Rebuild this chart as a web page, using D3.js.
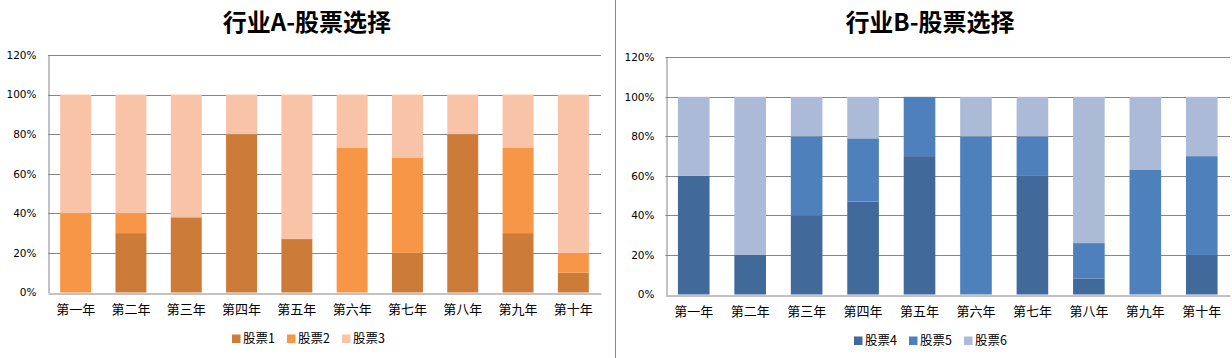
<!DOCTYPE html>
<html><head><meta charset="utf-8">
<script src="https://cdn.jsdelivr.net/npm/d3@7"></script>
<style>html,body{margin:0;padding:0;background:#fff;overflow:hidden}</style>
</head><body>
<svg id="c" width="1232" height="358"></svg>
<script>
const categories = ["第一年","第二年","第三年","第四年","第五年","第六年","第七年","第八年","第九年","第十年"];
const yTicks = [0, 20, 40, 60, 80, 100, 120];

const titleA = "行业A-股票选择";
const seriesNamesA = ["股票1","股票2","股票3"];
const stock1 = [0, 30, 38, 80, 27, 0, 20, 80, 30, 10];
const stock2 = [40, 10, 0, 0, 0, 73, 48, 0, 43, 10];
const stock3 = [60, 60, 62, 20, 73, 27, 32, 20, 27, 80];
const colorsA = ["#CD7B38", "#F79646", "#F9C3A8"];

const titleB = "行业B-股票选择";
const seriesNamesB = ["股票4","股票5","股票6"];
const stock4 = [60, 20, 40, 47, 70, 0, 60, 8, 0, 20];
const stock5 = [0, 0, 40, 32, 30, 80, 20, 18, 63, 50];
const stock6 = [40, 80, 20, 21, 0, 20, 20, 74, 37, 30];
const colorsB = ["#41699A", "#4E80BC", "#ABBAD7"];

const svg = d3.select("#c");
const cjk = "'Noto Sans CJK SC', 'Noto Sans', sans-serif";

function drawChart(cfg) {
  const g = svg.append("g");
  const x = d3.scaleBand().domain(categories).range([cfg.left, cfg.right]).paddingInner(0.44).paddingOuter(0.22);
  const y = d3.scaleLinear().domain([0, 120]).range([cfg.bottom, cfg.top]);

  // gridlines
  g.selectAll("line.grid").data(yTicks.filter(t => t > 0)).join("line")
    .attr("x1", cfg.left).attr("x2", cfg.right)
    .attr("y1", d => Math.round(y(d)) + 0.5).attr("y2", d => Math.round(y(d)) + 0.5)
    .attr("stroke", "#868686").attr("stroke-width", 1);

  // stacked data
  const rows = categories.map((c, i) => {
    const o = {cat: c};
    cfg.names.forEach((n, k) => o[n] = cfg.values[k][i]);
    return o;
  });
  const stack = d3.stack().keys(cfg.names)(rows);
  stack.forEach((layer, k) => {
    g.selectAll(null).data(layer.filter(d => d[1] > d[0])).join("rect")
      .attr("x", d => x(d.data.cat))
      .attr("width", x.bandwidth())
      .attr("y", d => y(d[1]))
      .attr("height", d => y(d[0]) - y(d[1]))
      .attr("fill", cfg.colors[k]);
  });

  // axes
  const yAxis = d3.axisLeft(y).tickValues(yTicks).tickSize(0).tickPadding(12).tickFormat(d => d + "%");
  const ya = g.append("g").attr("transform", `translate(${Math.round(cfg.left) + 0.5},0)`).call(yAxis);
  ya.select(".domain").attr("stroke", "#868686");
  ya.selectAll("text").attr("font-family", "'DejaVu Sans', sans-serif").attr("font-size", "10.5px").attr("fill", "#000");

  const xAxis = d3.axisBottom(x).tickSize(0).tickPadding(11);
  const xa = g.append("g").attr("transform", `translate(0,${Math.round(cfg.bottom) + 0.5})`).call(xAxis);
  xa.select(".domain").attr("stroke", "#868686");
  xa.selectAll("text").attr("font-family", cjk).attr("font-size", "13px").attr("fill", "#000");

  // title
  g.append("text").attr("x", cfg.titleX).attr("y", 31).attr("text-anchor", "middle")
    .attr("font-family", cjk).attr("font-weight", "bold").attr("font-size", "24px").attr("fill", "#000")
    .text(cfg.title);

  // legend
  const lg = g.append("g").attr("transform", `translate(${cfg.legendX},${cfg.legendY})`);
  cfg.names.forEach((n, k) => {
    const it = lg.append("g").attr("transform", `translate(${k * 55},0)`);
    it.append("rect").attr("x", 0).attr("y", 0).attr("width", 8.5).attr("height", 8.5).attr("fill", cfg.colors[k]);
    it.append("text").attr("x", 11).attr("y", 8.5).attr("font-family", cjk).attr("font-size", "12.5px").attr("fill", "#000").text(n);
  });
}

drawChart({left: 48, right: 601, top: 55, bottom: 292.5, names: seriesNamesA,
  values: [stock1, stock2, stock3], colors: colorsA, title: titleA, titleX: 307, legendX: 232, legendY: 334.5});
drawChart({left: 665.5, right: 1230, top: 57.3, bottom: 294.5, names: seriesNamesB,
  values: [stock4, stock5, stock6], colors: colorsB, title: titleB, titleX: 930, legendX: 854, legendY: 336.5});

// divider
svg.append("line").attr("x1", 615.5).attr("x2", 615.5).attr("y1", 0).attr("y2", 358)
  .attr("stroke", "#8a8a8a").attr("stroke-width", 1);
</script>
</body></html>
